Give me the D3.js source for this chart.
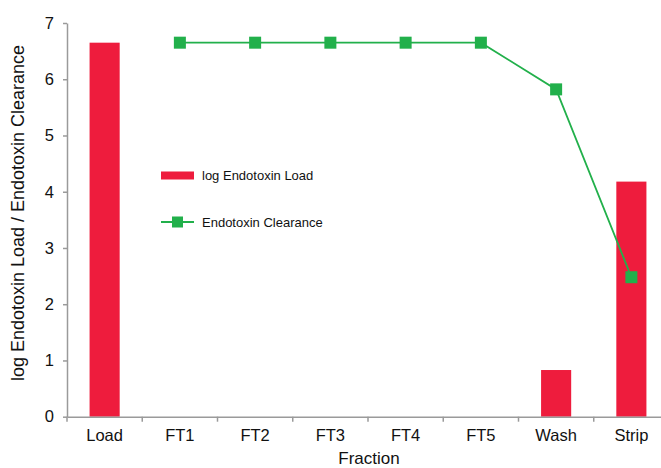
<!DOCTYPE html>
<html>
<head>
<meta charset="utf-8">
<script src="https://cdn.jsdelivr.net/npm/d3@7"></script>
<style>
  body { margin: 0; background: #fff; }
  text { font-family: "Liberation Sans", Arial, sans-serif; fill: #111; }
</style>
</head>
<body>
<svg width="661" height="468"></svg>
<script>
const fractions = ["Load", "FT1", "FT2", "FT3", "FT4", "FT5", "Wash", "Strip"];
const loadValues = [6.65, null, null, null, null, null, 0.83, 4.18];
const clearanceValues = [null, 6.65, 6.65, 6.65, 6.65, 6.65, 5.82, 2.48];
const yTicks = [0, 1, 2, 3, 4, 5, 6, 7];

const red = "#ee1c3d";
const green = "#22b04b";
const axisColor = "#9a9a9a";

const svg = d3.select("svg");

const x = d3.scaleBand().domain(fractions).range([67, 669]).paddingInner(0).paddingOuter(0);
const y = d3.scaleLinear().domain([0, 7]).range([416.7, 23]);

// bars
svg.append("g")
  .selectAll("rect")
  .data(fractions.map((f, i) => ({ f, v: loadValues[i] })).filter(d => d.v != null))
  .enter().append("rect")
  .attr("x", d => x(d.f) + x.bandwidth() * 0.3)
  .attr("width", x.bandwidth() * 0.4)
  .attr("y", d => y(d.v))
  .attr("height", d => y(0) - y(d.v))
  .attr("fill", red);

// y axis
const yAxis = svg.append("g")
  .attr("transform", "translate(67,0)")
  .call(d3.axisLeft(y).tickValues(yTicks).tickSize(4).tickSizeOuter(0).tickFormat(d3.format("d")));
yAxis.select(".domain").attr("stroke", axisColor).attr("stroke-width", 1.5);
yAxis.selectAll(".tick line").attr("stroke", axisColor).attr("stroke-width", 1.5);
yAxis.selectAll(".tick text").attr("x", -13).style("font-size", "16.5px").attr("fill", "#111");

// x axis
const xAxis = svg.append("g")
  .attr("transform", `translate(0,${y(0)})`)
  .call(d3.axisBottom(x).tickSize(0).tickSizeOuter(0));
xAxis.select(".domain").attr("stroke", axisColor).attr("stroke-width", 1.5);
xAxis.selectAll(".tick text").attr("y", 13).style("font-size", "16.5px").attr("fill", "#111");
xAxis.selectAll(".tick line").remove();
xAxis.selectAll(".sep")
  .data(fractions)
  .enter().append("line")
  .attr("x1", d => x(d)).attr("x2", d => x(d))
  .attr("y1", 0).attr("y2", 5)
  .attr("stroke", axisColor).attr("stroke-width", 1.5);

// line series
const pts = fractions.map((f, i) => ({ f, v: clearanceValues[i] })).filter(d => d.v != null);
const cx = d => x(d.f) + x.bandwidth() / 2;
svg.append("path")
  .datum(pts)
  .attr("fill", "none")
  .attr("stroke", green)
  .attr("stroke-width", 1.8)
  .attr("d", d3.line().x(cx).y(d => y(d.v)));
svg.append("g")
  .selectAll("rect")
  .data(pts)
  .enter().append("rect")
  .attr("x", d => cx(d) - 6)
  .attr("y", d => y(d.v) - 6)
  .attr("width", 12)
  .attr("height", 12)
  .attr("fill", green);

// axis titles
svg.append("text")
  .attr("x", 369)
  .attr("y", 464)
  .attr("text-anchor", "middle")
  .style("font-size", "17px")
  .text("Fraction");
svg.append("text")
  .attr("transform", "translate(24,213) rotate(-90)")
  .attr("text-anchor", "middle")
  .style("font-size", "18px")
  .text("log Endotoxin Load / Endotoxin Clearance");

// legend
const legend = svg.append("g");
legend.append("rect")
  .attr("x", 161).attr("y", 171.5).attr("width", 33).attr("height", 8)
  .attr("fill", red);
legend.append("text")
  .attr("x", 202).attr("y", 180)
  .style("font-size", "13px")
  .text("log Endotoxin Load");
legend.append("line")
  .attr("x1", 161).attr("x2", 194).attr("y1", 222).attr("y2", 222)
  .attr("stroke", green).attr("stroke-width", 1.8);
legend.append("rect")
  .attr("x", 172).attr("y", 216.5).attr("width", 11).attr("height", 11)
  .attr("fill", green);
legend.append("text")
  .attr("x", 202).attr("y", 227)
  .style("font-size", "13px")
  .text("Endotoxin Clearance");
</script>
</body>
</html>
